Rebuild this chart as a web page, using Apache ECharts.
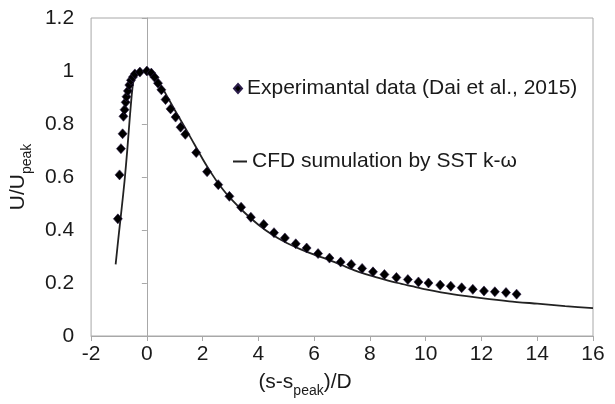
<!DOCTYPE html>
<html><head><meta charset="utf-8">
<script src="https://cdn.jsdelivr.net/npm/echarts@6/dist/echarts.min.js"></script>
<style>html,body{margin:0;padding:0;background:#fff}#c{width:615px;height:404px}</style>
</head><body><div id="c"></div>
<script>
// Experimental data (Dai et al., 2015)
const expX = [-1.04,-0.98,-0.93,-0.87,-0.84,-0.80,-0.76,-0.73,-0.68,-0.63,-0.57,-0.50,-0.43,-0.25,0.0,
  0.16,0.28,0.40,0.52,0.67,0.85,1.03,1.21,1.38,1.77,2.16,2.56,2.96,3.38,3.73,4.19,4.56,4.95,5.34,5.73,
  6.14,6.55,6.95,7.33,7.72,8.11,8.52,8.95,9.36,9.74,10.10,10.52,10.90,11.29,11.69,12.09,12.48,12.88,13.26];
const expY = [0.442,0.608,0.707,0.763,0.829,0.854,0.882,0.903,0.925,0.947,0.965,0.977,0.989,0.996,1.0,
  0.992,0.976,0.954,0.929,0.892,0.857,0.826,0.788,0.761,0.692,0.620,0.571,0.527,0.486,0.448,0.421,0.390,0.370,0.348,0.332,
  0.311,0.294,0.279,0.270,0.255,0.242,0.232,0.221,0.213,0.204,0.200,0.192,0.188,0.182,0.176,0.170,0.167,0.164,0.158];
// CFD simulation by SST k-omega
const cfdX = [-1.12,-1.0,-0.9,-0.8,-0.7,-0.6,-0.5,-0.4,-0.3,-0.15,0.0,0.25,0.5,0.75,1.0,1.5,2.0,2.25,2.5,2.75,3.0,3.5,4.0,4.5,5.0,5.5,6.0,6.5,7.0,7.5,8.0,8.5,9.0,9.5,10.0,11.0,12.0,13.0,14.0,15.0,16.0];
const cfdY = [0.27,0.39,0.485,0.585,0.705,0.84,0.95,0.985,0.995,1.0,0.997,0.978,0.945,0.90,0.853,0.762,0.668,0.625,0.585,0.55,0.519,0.466,0.420,0.382,0.352,0.328,0.307,0.288,0.267,0.246,0.229,0.214,0.200,0.188,0.176,0.157,0.143,0.131,0.122,0.113,0.105];
const xTicks = [-2,0,2,4,6,8,10,12,14,16];
const yTicks = [0,0.2,0.4,0.6,0.8,1.0,1.2];
const expName = 'Experimantal data (Dai et al., 2015)';
const cfdName = 'CFD sumulation by SST k-\u03c9';

const FONT = 'Liberation Sans, Arial, sans-serif';
const TXT = '#1a1a1a';
const AX = '#a8a8a8';
const chart = echarts.init(document.getElementById('c'), null, {renderer:'canvas'});
chart.setOption({
  animation:false,
  backgroundColor:'#fff',
  textStyle:{fontFamily:FONT},
  grid:{left:89,right:22,top:18,bottom:68,show:true,borderColor:AX,borderWidth:1},
  legend:[
    {data:[expName],left:228,top:73,icon:'diamond',itemWidth:8,itemHeight:9,
     textStyle:{fontSize:21,color:TXT,fontFamily:FONT}},
    {data:[cfdName],left:228,top:146,icon:'rect',itemWidth:14,itemHeight:2,
     textStyle:{fontSize:21,color:TXT,fontFamily:FONT}}
  ],
  xAxis:{type:'value',min:xTicks[0],max:xTicks[xTicks.length-1],interval:xTicks[1]-xTicks[0],
    splitLine:{show:false},
    axisLine:{onZero:false,lineStyle:{color:AX,width:1}},
    axisTick:{show:true,length:5,lineStyle:{color:AX}},
    axisLabel:{fontSize:21,color:TXT,margin:8,fontFamily:FONT},
    name:'{a|(s-s}{b|peak}{a|)/D}',nameLocation:'middle',nameGap:36,
    nameTextStyle:{padding:[0,74,0,0],rich:{
      a:{fontSize:21,color:TXT,fontFamily:FONT,lineHeight:26,verticalAlign:'top'},
      b:{fontSize:14,color:TXT,fontFamily:FONT,lineHeight:14,verticalAlign:'bottom'}}}
  },
  yAxis:[
    {type:'value',position:'left',min:yTicks[0],max:yTicks[yTicks.length-1],interval:0.2,
     splitLine:{show:false},axisLine:{show:false,onZero:false},axisTick:{show:false},
     axisLabel:{fontSize:21,color:TXT,margin:17,fontFamily:FONT},
     name:'{a|U/U}{b|peak}',nameLocation:'middle',nameGap:48,
     nameTextStyle:{rich:{
       a:{fontSize:21,color:TXT,fontFamily:FONT,lineHeight:26,verticalAlign:'top'},
       b:{fontSize:14,color:TXT,fontFamily:FONT,lineHeight:14,verticalAlign:'bottom'}}}
    },
    {type:'value',position:'left',min:yTicks[0],max:yTicks[yTicks.length-1],interval:0.2,
     splitLine:{show:false},
     axisLine:{show:true,onZero:true,lineStyle:{color:AX,width:1}},
     axisTick:{show:true,length:5,lineStyle:{color:AX}},
     axisLabel:{show:false}}
  ],
  series:[
    {name:cfdName,type:'line',yAxisIndex:0,data:cfdX.map((x,i)=>[x,cfdY[i]]),
     showSymbol:false,smooth:0.25,
     lineStyle:{color:'#222',width:1.8},itemStyle:{color:'#222'},z:2},
    {name:expName,type:'scatter',yAxisIndex:0,data:expX.map((x,i)=>[x,expY[i]]),
     symbol:'diamond',symbolSize:[9,10],
     itemStyle:{color:'#000',borderColor:'#2b1d4a',borderWidth:0.6,opacity:1},z:3}
  ]
});
</script></body></html>
